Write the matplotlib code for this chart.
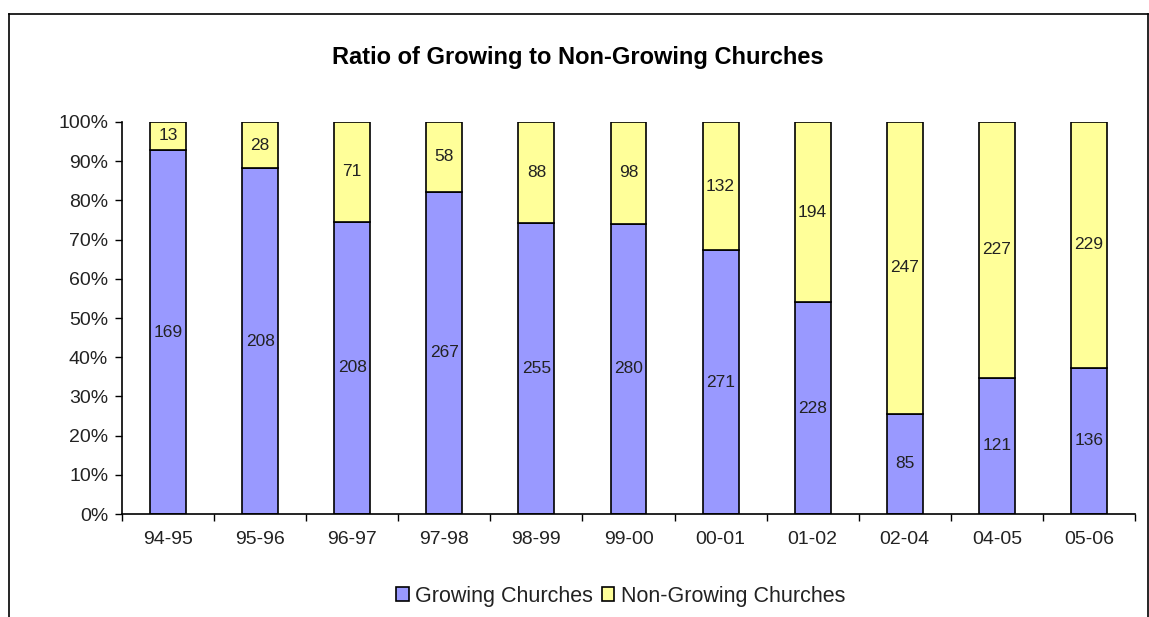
import numpy as np
import matplotlib.pyplot as plt
from matplotlib.lines import Line2D

plt.rcParams['font.family'] = ['Liberation Sans', 'DejaVu Sans']

# Data
periods = ["94-95", "95-96", "96-97", "97-98", "98-99", "99-00",
           "00-01", "01-02", "02-04", "04-05", "05-06"]
growing = [169, 208, 208, 267, 255, 280, 271, 228, 85, 121, 136]
non_growing = [13, 28, 71, 58, 88, 98, 132, 194, 247, 227, 229]

grow = np.array(growing, dtype=float)
nongrow = np.array(non_growing, dtype=float)
total = grow + nongrow
grow_pct = grow / total * 100
nongrow_pct = nongrow / total * 100

fig = plt.figure(figsize=(11.49, 6.17), dpi=100)
ax = fig.add_axes([0.1062, 0.1669, 0.8816, 0.6354])

x = np.arange(len(periods))
w = 0.39
b1 = ax.bar(x, grow_pct, w, color="#9999FF", edgecolor="black", linewidth=1.2,
            label="Growing Churches")
b2 = ax.bar(x, nongrow_pct, w, bottom=grow_pct, color="#FFFF99", edgecolor="black",
            linewidth=1.2, label="Non-Growing Churches")

for i in range(len(periods)):
    ax.text(x[i], grow_pct[i] / 2, growing[i], ha="center", va="center",
            fontsize=12.5, color="#222222")
    ax.text(x[i], grow_pct[i] + nongrow_pct[i] / 2, non_growing[i], ha="center",
            va="center", fontsize=12.5, color="#222222")

ax.set_xlim(-0.5, len(periods) - 0.5)
ax.set_ylim(0, 100)
ax.set_yticks(np.arange(0, 101, 10))
ax.set_yticklabels([f"{v}%" for v in range(0, 101, 10)], fontsize=14, color="#222222")
ax.set_xticks(x)
ax.set_xticklabels(periods, fontsize=14, color="#222222")
ax.tick_params(axis="x", length=0, pad=12)
ax.set_xticks(np.arange(-0.5, len(periods), 1), minor=True)
ax.tick_params(axis="x", which="minor", length=5, direction="out", width=1)
ax.tick_params(axis="y", length=5, direction="out", width=1, pad=5)
for s in ["top", "right"]:
    ax.spines[s].set_visible(False)
ax.spines["left"].set_linewidth(1.2)
ax.spines["bottom"].set_linewidth(1.2)

fig.text(0.503, 0.907, "Ratio of Growing to Non-Growing Churches", ha="center",
         va="center", fontsize=17, fontweight="bold")

leg = fig.legend(handles=[b1, b2], loc="center", bbox_to_anchor=(0.54, 0.034),
                 ncol=2, frameon=False, fontsize=15.5, handlelength=0.6,
                 handleheight=0.6, handletextpad=0.3, columnspacing=0.4)
for t in leg.get_texts():
    t.set_color("#222222")

# outer chart frame
fig.add_artist(Line2D([9 / 1149, 1148 / 1149], [1 - 14 / 617, 1 - 14 / 617],
                      color="black", linewidth=1.2, transform=fig.transFigure))
fig.add_artist(Line2D([9 / 1149, 9 / 1149], [0, 1 - 14 / 617],
                      color="black", linewidth=1.2, transform=fig.transFigure))
fig.add_artist(Line2D([1148 / 1149, 1148 / 1149], [0, 1 - 14 / 617],
                      color="black", linewidth=1.2, transform=fig.transFigure))

fig.savefig("out.png", dpi=100)
